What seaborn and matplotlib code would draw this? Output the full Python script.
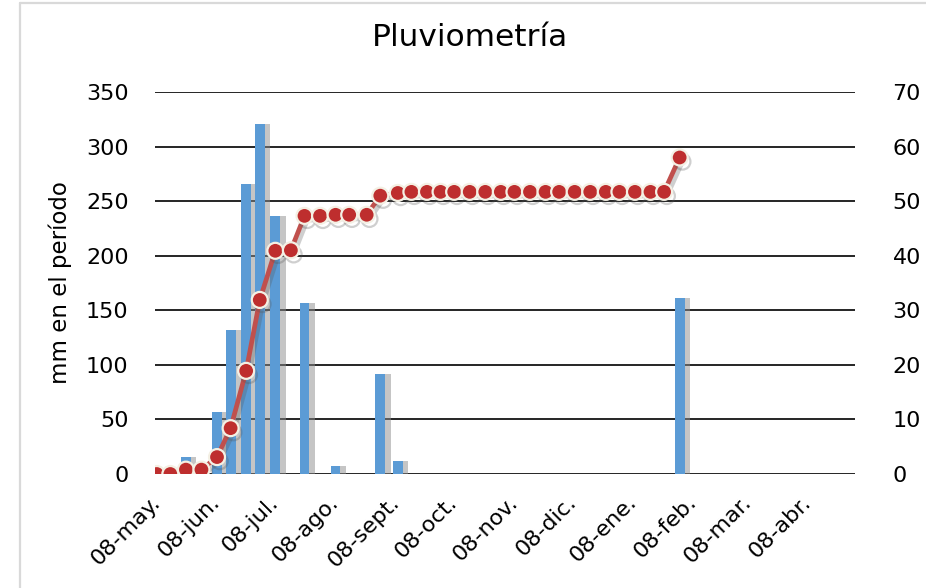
import matplotlib
matplotlib.use("Agg")
import matplotlib.pyplot as plt
import matplotlib.dates as mdates
import matplotlib.patheffects as pe
from matplotlib.lines import Line2D
import numpy as np
import pandas as pd
import seaborn as sns

# ---------------- data ----------------
fechas = ["2018-05-08", "2018-05-15", "2018-05-23", "2018-05-31", "2018-06-08", "2018-06-15",
          "2018-06-23", "2018-06-30", "2018-07-08", "2018-07-16", "2018-07-23", "2018-07-31",
          "2018-08-08", "2018-08-15", "2018-08-24", "2018-08-31", "2018-09-09", "2018-09-16",
          "2018-09-24", "2018-10-01", "2018-10-08", "2018-10-16", "2018-10-24", "2018-11-01",
          "2018-11-08", "2018-11-16", "2018-11-24", "2018-12-01", "2018-12-09", "2018-12-17",
          "2018-12-25", "2019-01-01", "2019-01-09", "2019-01-17", "2019-01-24", "2019-02-01"]
mm_periodo = [0, 0, 16, 0, 57, 132, 266, 321, 236, 0, 157, 0,
              7, 0, 0, 92, 12, 0, 0, 0, 0, 0, 0, 0,
              0, 0, 0, 0, 0, 0, 0, 0, 0, 0, 0, 161]
acumulado = [0, 0, 0.8, 0.8, 3.1, 8.4, 18.9, 31.9, 40.9, 41.0, 47.3, 47.3,
             47.5, 47.5, 47.5, 51.0, 51.5, 51.7, 51.7, 51.7, 51.7, 51.7, 51.7, 51.7,
             51.7, 51.7, 51.7, 51.7, 51.7, 51.7, 51.7, 51.7, 51.7, 51.7, 51.7, 58.0]
tick_fechas = ["2018-05-08", "2018-06-08", "2018-07-08", "2018-08-08", "2018-09-08", "2018-10-08",
               "2018-11-08", "2018-12-08", "2019-01-08", "2019-02-08", "2019-03-08", "2019-04-08"]
tick_labels = ["08-may.", "08-jun.", "08-jul.", "08-ago.", "08-sept.", "08-oct.",
               "08-nov.", "08-dic.", "08-ene.", "08-feb.", "08-mar.", "08-abr."]
left_ticks = [0, 50, 100, 150, 200, 250, 300, 350]
right_ticks = [0, 10, 20, 30, 40, 50, 60, 70]
titulo = "Pluviometría"
ylabel = "mm en el período"

# ---------------- figure ----------------
sns.set_style("white")
plt.rcParams["font.family"] = ["DejaVu Sans"]
plt.rcParams["text.color"] = "black"
plt.rcParams["axes.labelcolor"] = "black"
plt.rcParams["xtick.color"] = "black"
plt.rcParams["ytick.color"] = "black"

W, H = 926, 588
fig = plt.figure(figsize=(W / 100, H / 100), dpi=100)
ax = fig.add_axes([155 / W, 1 - 474 / H, 700 / W, 382 / H])

dnum = mdates.date2num(pd.to_datetime(fechas))
df = pd.DataFrame({"x": dnum, "mm": mm_periodo, "acum": acumulado})

sns.barplot(data=df, x="x", y="mm", native_scale=True, width=0.72,
            color="#5B9BD5", saturation=1, ax=ax, errorbar=None, zorder=2)
for p in ax.patches:
    if p.get_height() <= 0:
        p.set_visible(False)
        continue
    p.set_linewidth(0)
    p.set_path_effects([pe.SimplePatchShadow(offset=(4, 0), shadow_rgbFace="#8c8c8c", alpha=0.5),
                        pe.Normal()])

ax2 = ax.twinx()
sns.lineplot(data=df, x="x", y="acum", ax=ax2, color="#C0504D", linewidth=3.4,
             marker="o", markersize=11.5, markerfacecolor="#BE2E2E",
             markeredgecolor="#F4F0E4", markeredgewidth=1.6, zorder=3)
for ln in ax2.lines:
    ln.set_path_effects([pe.SimpleLineShadow(offset=(2, -3), shadow_color="#555555", alpha=0.28),
                         pe.Normal()])

d0 = dnum[0]
ax.set_xlim(d0 - 0.9, d0 + 359.2)
ax2.set_xlim(d0 - 0.9, d0 + 359.2)

ax.set_ylim(0, 350)
ax2.set_ylim(0, 70)
ax.set_yticks(left_ticks)
ax2.set_yticks(right_ticks)
ax.set_yticklabels([str(t) for t in left_ticks], fontsize=16)
ax2.set_yticklabels([str(t) for t in right_ticks], fontsize=16)

tx = mdates.date2num(pd.to_datetime(tick_fechas))
ax.set_xticks(tx)
ax.set_xticklabels(tick_labels, fontsize=16, rotation=45, ha="right",
                   va="center", rotation_mode="anchor")

ax.tick_params(axis="y", length=0, pad=19)
ax2.tick_params(axis="y", length=0, pad=27)
ax.tick_params(axis="x", length=0, pad=18)

ax.set_axisbelow(True)
ax.yaxis.grid(True, color="black", linewidth=1.2)
ax.xaxis.grid(False)
ax2.grid(False)
for a in (ax, ax2):
    for s in a.spines.values():
        s.set_visible(False)

ax.set_xlabel("")
ax2.set_xlabel("")
ax2.set_ylabel("")
ax.set_ylabel(ylabel, fontsize=16.5)
ax.yaxis.set_label_coords((72 - 155) / 700, 0.5)

fig.text(470 / W, 1 - 38 / H, titulo, ha="center", va="center", fontsize=22.5)

# chart-area border (light grey), partly cropped as in the reference
fig.add_artist(Line2D([20 / W, 20 / W], [0, 1 - 3 / H], transform=fig.transFigure,
                      color="#D9D9D9", linewidth=1.6))
fig.add_artist(Line2D([20 / W, 1], [1 - 3 / H, 1 - 3 / H], transform=fig.transFigure,
                      color="#D9D9D9", linewidth=1.6))

fig.savefig("out.png", dpi=100)
